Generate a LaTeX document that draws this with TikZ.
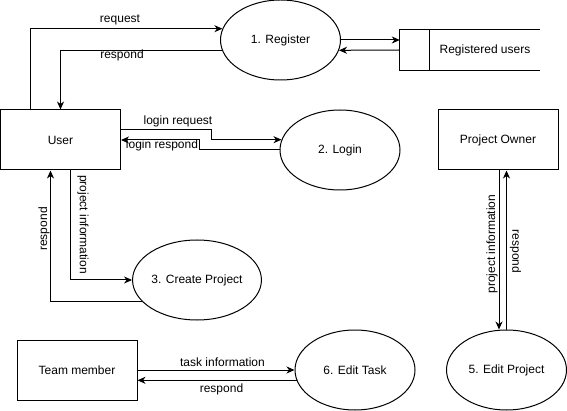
\documentclass[tikz,border=0pt]{standalone}
\usepackage{fontspec}
\setmainfont{Liberation Sans}
\usetikzlibrary{calc,arrows.meta,shapes.geometric}
\tikzset{
	entity/.style={draw, line width=1pt, minimum width=120pt, minimum height=60pt, inner sep=0pt},
	process/.style={draw, ellipse, line width=1pt, minimum width=120pt, minimum height=80pt, inner sep=0pt},
	store/.style={minimum width=110pt, minimum height=40pt, inner sep=0pt},
	flow/.style={line width=1pt, -{Stealth[length=8pt,width=7pt,inset=2.5pt]}},
	flowlabel/.style={inner sep=0pt},
}
\begin{document}
\begin{tikzpicture}[x=1pt, y=-1pt, font=\fontsize{12}{14}\selectfont]
			%%%%% START %%%%%
			\useasboundingbox (0,0) rectangle (567,411);
			
			\node[entity] (user) at (60.5, 140) {User};
			\node[process] (register) at (280.5, 40) {1. Register};
			\node[store] (regusers) at (485, 50) {Registered users};
			\node[process] (login) at (340, 150) {2. Login};
			\node[process] (createproj) at (197, 280) {3. Create Project};
			\node[entity] (owner) at (498, 140) {Project Owner};
			\node[entity] (teammember) at (77, 370) {Team member};
			\node[process] (edittask) at (355, 370) {6. Edit Task};
			\node[process] (editproj) at (506.5, 370) {5. Edit Project};
			
			% data store
			\draw[line width=1pt] (regusers.north east) -- ($(regusers.north west)+(-30,0)$) -- ($(regusers.south west)+(-30,0)$) -- (regusers.south east);
			\draw[line width=1pt] (regusers.north west) -- (regusers.south west);
			\coordinate (regin) at ($(regusers.west)+(-30,0)$);
			
			\draw[flow] (register.east) -- (register.east -| regin);
			\draw[flow] (regin) -- (register.-10);
			
			\draw[flow] ($(user.north west)+(30,0)$) |- (register.169);
			\draw[flow] (register.190) -| (user.north);
			\node[flowlabel] (lblrequest) at (120, 20) {request};
			\node[flowlabel] (lblrespond1) at (122, 55) {respond};
			
			\draw[flow] ($(user.east)+(0,-10)$) -- ++(90,0) |- (login.170);
			\draw[flow] (login.west) -- ++(-80,0) |- (user.east);
			\node[flowlabel] (lbllogreq) at (178, 121.5) {login request};
			\node[flowlabel] (lbllogresp) at (162, 145) {login respond};
			
			\draw[flow] ($(user.south)+(10,0)$) |- (createproj.west);
			\draw[flow] (createproj.201) -| ($(user.south)+(-10,0)$);
			\node[flowlabel, rotate=-90] (lblprojinfo1) at (83, 224.5) {project information};
			\node[flowlabel, rotate=90] (lblrespond2) at (44, 229) {respond};
			
			\draw[flow] ($(owner.south)+(1,0)$) coordinate (poout) -- (poout |- editproj.north);
			\draw[flow] (editproj.north) -- (editproj.north |- owner.south);
			\node[flowlabel, rotate=90] (lblprojinfo2) at (492, 244) {project information};
			\node[flowlabel, rotate=-90] (lblrespond3) at (515.5, 251.5) {respond};
			
			\draw[flow] (teammember.east) -- (edittask.west);
			\draw[flow] (edittask.190) -- (edittask.190 -| teammember.east);
			\node[flowlabel] (lbltaskinfo) at (222.5, 362) {task information};
			\node[flowlabel] (lblrespond4) at (221.5, 389) {respond};
			
			%%%%% END %%%%%
		\end{tikzpicture}
\end{document}
